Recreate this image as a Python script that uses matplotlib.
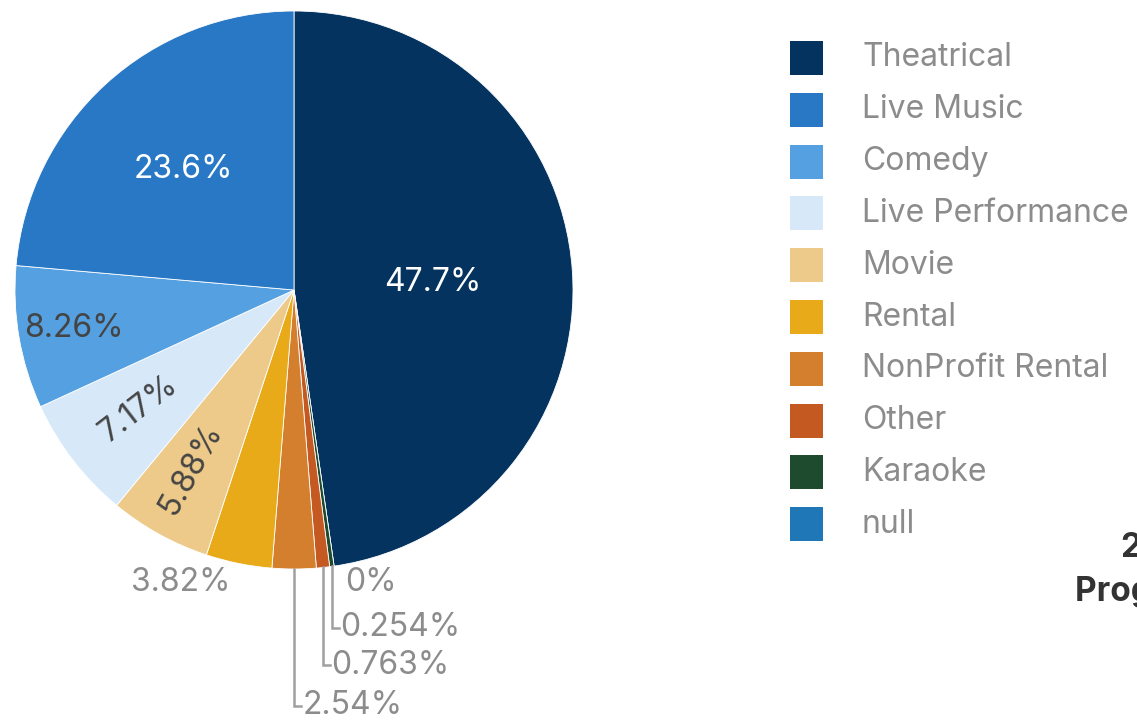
import numpy as np
import matplotlib.pyplot as plt
from matplotlib.patches import Rectangle

plt.rcParams['font.family'] = ['Inter', 'DejaVu Sans']

# data (legend order)
categories = ["Theatrical", "Live Music", "Comedy", "Live Performance", "Movie",
              "Rental", "NonProfit Rental", "Other", "Karaoke", "null"]
shares = [47.7, 23.6, 8.26, 7.17, 5.88, 3.82, 2.54, 0.763, 0.254, 0.0]
labels = ["47.7%", "23.6%", "8.26%", "7.17%", "5.88%",
          "3.82%", "2.54%", "0.763%", "0.254%", "0%"]
colors = ["#04335f", "#2878c6", "#55a0e0", "#d7e9f9", "#edca89",
          "#e8aa18", "#d47f2e", "#c45a22", "#1e4a2e", "#2077b7"]

W, H = 1137, 721
fig = plt.figure(figsize=(W / 100, H / 100), dpi=100)
fig.patch.set_facecolor("white")

ax = fig.add_axes([15 / W, (H - 569) / H, 558 / W, 558 / H])

# draw clockwise from top: Theatrical first, then the small ones ... Live Music last
order = [0, 9, 8, 7, 6, 5, 4, 3, 2, 1]
wedges, _ = ax.pie([max(shares[i], 1e-9) for i in order],
                   colors=[colors[i] for i in order],
                   startangle=90, counterclock=False, radius=1,
                   wedgeprops=dict(edgecolor="white", linewidth=0.6))
ax.set_xlim(-1, 1)
ax.set_ylim(-1, 1)
ax.set_aspect("equal")
ax.axis("off")

mid = {}
for w, i in zip(wedges, order):
    mid[i] = np.deg2rad((w.theta1 + w.theta2) / 2)

fs = 23
# inside labels: index -> (radius, angle shift in deg, color, rotate)
inside = {0: (0.50, -1, "white", False), 1: (0.585, 0, "white", False),
          2: (0.80, 0, "#444444", False), 3: (0.70, 0, "#444444", True),
          4: (0.74, -1, "#444444", True)}
for i, (r, da, c, rot) in inside.items():
    a = mid[i] + np.deg2rad(da)
    angle = np.rad2deg(mid[i]) - 180 if rot else 0
    ax.text(r * np.cos(a), r * np.sin(a), labels[i], color=c, fontsize=fs,
            ha="center", va="center", rotation=angle)

gray = "#8c8c8c"
line_gray = "#a0a0a0"
# Rental: below the pie without a leader
a = mid[5]
ax.text(np.cos(a) - 0.03, -1.05, labels[5], color=gray, fontsize=fs,
        ha="right", va="center")
# null: 0%
a = mid[9]
ax.text(np.cos(a) + 0.04, -1.05, labels[9], color=gray, fontsize=fs,
        ha="left", va="center")
# leader lines for the thin slices
for i, yl in [(6, -1.49), (7, -1.345), (8, -1.21)]:
    a = mid[i]
    x0, y0 = np.cos(a), np.sin(a)
    ax.plot([x0, x0, x0 + 0.025], [y0, yl, yl], color=line_gray, lw=1.8,
            clip_on=False, solid_joinstyle="miter")
    ax.text(x0 + 0.03, yl, labels[i], color=gray, fontsize=fs,
            ha="left", va="center")

# legend
for k, (name, col) in enumerate(zip(categories, colors)):
    yc = 58 + k * 51.8
    fig.add_artist(Rectangle((790 / W, (H - yc - 17) / H), 33 / W, 34 / H,
                             transform=fig.transFigure, facecolor=col,
                             edgecolor="none"))
    fig.text(862 / W, (H - yc) / H, name, fontsize=fs, color=gray,
             ha="left", va="center")

# title, cut by the right edge as in the reference
fig.text(1120 / W, (H - 548) / H, "2023", fontsize=24, fontweight="bold",
         color="#333333", ha="left", va="center")
fig.text(1075 / W, (H - 592) / H, "Program Type", fontsize=24,
         fontweight="bold", color="#333333", ha="left", va="center")

fig.savefig("out.png", dpi=100)
